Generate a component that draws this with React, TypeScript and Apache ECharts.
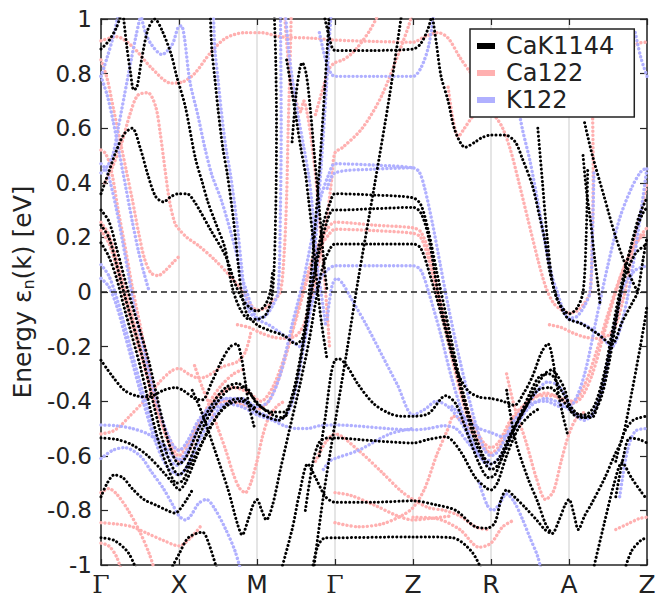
import React, { useEffect, useRef } from "react";
import * as echarts from "echarts";

// k-path: Γ=0, X=1, M=2, Γ=3, Z=4, R=5, A=6, Z=7 ; each band = flat list k0,E0,k1,E1,...
const kLabels = ["Γ", "X", "M", "Γ", "Z", "R", "A", "Z"];
const seriesNames = ["CaK1144", "Ca122", "K122"];

// ---------- CaK1144 (black) ----------
const K01 = [0,0.89, 0.1,0.92, 0.2,0.97, 0.27,1.03];
const K02 = [0.28,1.03, 0.33,0.9, 0.38,0.8, 0.42,0.74, 0.46,0.75, 0.52,0.85, 0.6,0.96, 0.69,1.0, 0.78,0.96, 0.9,0.87, 0.97,0.79, 1.08,0.68, 1.21,0.49, 1.3,0.4, 1.37,0.33, 1.46,0.26, 1.59,0.16, 1.68,0.02, 1.78,-0.06, 1.9,-0.1, 2.0,-0.1, 2.12,-0.08, 2.2,0.0, 2.24,0.3, 2.25,0.6, 2.24,0.85, 2.22,1.03];
const K03 = [1.4,1.03, 1.42,0.89, 1.46,0.78, 1.5,0.67, 1.56,0.53, 1.62,0.43, 1.7,0.26, 1.76,0.1, 1.8,0.0, 1.87,-0.08, 2.0,-0.12, 2.15,-0.14, 2.35,-0.16, 2.5,-0.19, 2.58,-0.17, 2.65,-0.05, 2.72,0.15, 2.8,0.45, 2.87,0.75, 2.93,1.03];
const K04 = [0,0.36, 0.1,0.44, 0.2,0.52, 0.3,0.58, 0.4,0.6, 0.5,0.53, 0.6,0.43, 0.7,0.35, 0.8,0.33, 0.9,0.35, 1.0,0.36, 1.1,0.36, 1.2,0.33, 1.4,0.23, 1.6,0.13, 1.72,0.03, 1.82,-0.03, 1.92,-0.06, 2.0,-0.07, 2.1,-0.05, 2.17,0.0, 2.2,0.08];
const K05 = [0,0.3, 0.1,0.26, 0.2,0.16, 0.35,0.0, 0.6,-0.24, 0.78,-0.46, 0.9,-0.58, 1.0,-0.63, 1.1,-0.6, 1.25,-0.5, 1.45,-0.4, 1.6,-0.35, 1.75,-0.335, 1.9,-0.37, 2.05,-0.42, 2.2,-0.45, 2.32,-0.46, 2.42,-0.42, 2.5,-0.34, 2.6,-0.18, 2.7,0.0, 2.8,0.15, 2.9,0.26, 2.97,0.3, 3.0,0.3, 3.5,0.305, 4.0,0.31, 4.1,0.29, 4.2,0.2, 4.32,0.0, 4.5,-0.22, 4.65,-0.4, 4.8,-0.55, 4.95,-0.64, 5.0,-0.65, 5.1,-0.63, 5.3,-0.5, 5.5,-0.37, 5.62,-0.31, 5.75,-0.3, 5.9,-0.36, 6.05,-0.43, 6.2,-0.46, 6.32,-0.44, 6.42,-0.38, 6.52,-0.25, 6.62,-0.08, 6.72,0.08, 6.85,0.22, 6.95,0.29, 7.0,0.31];
const K06 = [0,0.245, 0.1,0.2, 0.2,0.1, 0.32,-0.03, 0.55,-0.26, 0.75,-0.5, 0.88,-0.62, 1.0,-0.67, 1.1,-0.64, 1.3,-0.5, 1.5,-0.4, 1.7,-0.35, 1.85,-0.35, 2.0,-0.41, 2.2,-0.44, 2.35,-0.44, 2.45,-0.38, 2.55,-0.25, 2.65,-0.08, 2.75,0.1, 2.85,0.25, 2.94,0.33, 3.0,0.36, 3.5,0.355, 4.0,0.345, 4.1,0.32, 4.2,0.22, 4.3,0.08, 4.45,-0.12, 4.6,-0.32, 4.75,-0.48, 4.9,-0.6, 5.0,-0.63, 5.1,-0.61, 5.25,-0.52, 5.45,-0.42, 5.6,-0.36, 5.75,-0.35, 5.9,-0.39, 6.05,-0.44, 6.2,-0.45, 6.32,-0.42, 6.45,-0.3, 6.55,-0.15, 6.65,0.0, 6.78,0.15, 6.9,0.28, 7.0,0.345];
const K07 = [0,0.18, 0.1,0.13, 0.2,0.05, 0.3,-0.06, 0.5,-0.27, 0.72,-0.53, 0.85,-0.64, 0.97,-0.7, 1.05,-0.69, 1.15,-0.63, 1.3,-0.55, 1.5,-0.45, 1.65,-0.4, 1.8,-0.39, 2.0,-0.44, 2.15,-0.46, 2.28,-0.47, 2.38,-0.45];
const K08 = [0,-0.25, 0.15,-0.31, 0.3,-0.36, 0.45,-0.38, 0.6,-0.385, 0.8,-0.36, 0.95,-0.35, 1.05,-0.36, 1.2,-0.39, 1.3,-0.395, 1.42,-0.33, 1.55,-0.25, 1.66,-0.2, 1.74,-0.19, 1.8,-0.24, 1.85,-0.33, 1.9,-0.42, 1.97,-0.5];
const K09 = [1.17,-0.36, 1.29,-0.44, 1.46,-0.58, 1.63,-0.725, 1.75,-0.85, 1.81,-0.89, 1.88,-0.84, 1.95,-0.78, 2.0,-0.76, 2.06,-0.8, 2.12,-0.835, 2.2,-0.78, 2.3,-0.65, 2.42,-0.5, 2.55,-0.34, 2.67,-0.175, 2.75,-0.04, 2.85,0.1, 2.94,0.16, 3.0,0.176, 3.5,0.176, 4.0,0.176, 4.1,0.16, 4.22,0.06, 4.38,-0.1, 4.55,-0.28, 4.7,-0.36, 4.85,-0.385, 5.0,-0.39, 5.15,-0.4, 5.3,-0.415, 5.42,-0.37, 5.53,-0.31, 5.65,-0.22, 5.73,-0.19, 5.78,-0.23, 5.85,-0.35, 5.92,-0.45, 5.98,-0.52];
const K10 = [2.85,1.03, 2.93,0.93, 3.0,0.885, 3.5,0.885, 4.0,0.89, 4.1,0.91, 4.2,0.97, 4.25,1.03];
const K11 = [2.8,-0.6, 2.88,-0.45, 2.95,-0.3, 3.0,-0.25, 3.05,-0.245, 3.15,-0.27, 3.3,-0.34, 3.5,-0.41, 3.7,-0.445, 3.85,-0.455, 4.0,-0.455, 4.2,-0.445, 4.42,-0.38, 4.55,-0.41, 4.7,-0.52, 4.85,-0.63, 4.97,-0.68, 5.05,-0.67, 5.15,-0.6, 5.3,-0.5, 5.45,-0.42, 5.55,-0.36, 5.69,-0.3, 5.78,-0.285, 5.86,-0.31, 5.95,-0.36, 6.03,-0.44, 6.15,-0.46, 6.29,-0.46, 6.38,-0.4, 6.5,-0.25, 6.6,-0.1, 6.7,0.04, 6.85,0.14, 7.0,0.176];
const K12 = [0,-0.535, 0.2,-0.54, 0.4,-0.56, 0.6,-0.6, 0.8,-0.66, 0.95,-0.71, 1.0,-0.725, 1.08,-0.7, 1.2,-0.62, 1.35,-0.52, 1.5,-0.45, 1.65,-0.41, 1.8,-0.4, 2.0,-0.43];
const K13 = [2.62,-0.8, 2.72,-0.62, 2.8,-0.55, 2.9,-0.535, 3.0,-0.535, 3.5,-0.545, 4.0,-0.553, 4.2,-0.54, 4.42,-0.53, 4.6,-0.58, 4.8,-0.68, 4.95,-0.72, 5.0,-0.725, 5.08,-0.7, 5.2,-0.6, 5.35,-0.5, 5.5,-0.45, 5.6,-0.43];
const K14 = [0,-0.75, 0.08,-0.7, 0.17,-0.67, 0.28,-0.68, 0.4,-0.72, 0.55,-0.76, 0.7,-0.78, 0.85,-0.8, 0.95,-0.81, 1.0,-0.8, 1.1,-0.76, 1.18,-0.72];
const K15 = [2.3,-1.03, 2.45,-0.87, 2.55,-0.73, 2.65,-0.63, 2.75,-0.68, 2.88,-0.75, 3.0,-0.77, 3.5,-0.77, 4.0,-0.765, 4.3,-0.78, 4.55,-0.8, 4.8,-0.86, 4.95,-0.865, 5.05,-0.845, 5.13,-0.76, 5.2,-0.725, 5.3,-0.75, 5.44,-0.79, 5.6,-0.84, 5.69,-0.87, 5.78,-0.885, 5.88,-0.83, 5.95,-0.78, 6.0,-0.76, 6.06,-0.81, 6.12,-0.87, 6.2,-0.82, 6.29,-0.775, 6.46,-0.68, 6.58,-0.6, 6.68,-0.54, 6.81,-0.36, 6.97,-0.11, 7.0,-0.05];
const K16 = [0,-0.9, 0.17,-0.91, 0.35,-0.955, 0.47,-1.03];
const K17 = [0.87,-1.03, 1.0,-0.96, 1.12,-0.9, 1.3,-0.88, 1.38,-0.92, 1.5,-1.03];
const K18 = [2.7,-1.03, 2.78,-0.93, 2.88,-0.9, 3.0,-0.9, 4.0,-0.897, 4.5,-0.9, 4.75,-0.95, 4.9,-1.03];
const K19 = [2.72,-1.03, 2.85,-0.75, 3.0,-0.48, 3.15,-0.22, 3.3,0.05, 3.5,0.38, 3.7,0.72, 3.86,1.03];
const K20 = [4.24,1.03, 4.3,0.91, 4.36,0.79, 4.45,0.7, 4.54,0.59, 4.67,0.53, 4.8,0.55, 4.88,0.565, 5.0,0.575, 5.18,0.575, 5.31,0.55, 5.4,0.49, 5.53,0.39, 5.62,0.28, 5.69,0.19, 5.75,0.08, 5.82,0.0, 5.92,-0.07, 6.0,-0.1, 6.15,-0.115, 6.35,-0.15, 6.55,-0.19, 6.68,-0.11, 6.81,-0.04, 6.88,0.0, 6.95,0.12, 7.0,0.2];
const K21 = [6.7,-1.03, 6.8,-0.95, 6.92,-0.91, 7.0,-0.9];
const K22 = [6.3,-1.03, 6.45,-0.85, 6.58,-0.7, 6.68,-0.625, 6.8,-0.68, 6.92,-0.73, 7.0,-0.76];
const K23 = [6.6,-0.75, 6.7,-0.6, 6.78,-0.535, 6.9,-0.54, 7.0,-0.553];
const K24 = [6.6,-0.62, 6.7,-0.52, 6.82,-0.47, 7.0,-0.455];
const K25 = [2.38,0.85, 2.45,0.73, 2.5,0.64, 2.56,0.53, 2.62,0.435, 2.66,0.34, 2.71,0.215, 2.75,0.09, 2.78,0.0, 2.83,-0.12, 2.9,-0.25];
const K26 = [2.45,0.55, 2.5,0.72, 2.55,0.82, 2.58,0.84, 2.63,0.8, 2.68,0.68, 2.73,0.52, 2.8,0.3, 2.86,0.1, 2.9,0.0];
const K27 = [6.2,0.62, 6.3,0.5, 6.45,0.35, 6.6,0.2, 6.75,0.08, 6.88,0.0];
const K28 = [6.18,0.5, 6.22,0.38, 6.28,0.25, 6.33,0.12, 6.37,0.03, 6.4,-0.05];
const K29 = [5.2,-0.36, 5.31,-0.54, 5.47,-0.68, 5.6,-0.77, 5.7,-0.85, 5.78,-0.885];
const K30 = [5.6,0.6, 5.66,0.4, 5.72,0.2, 5.78,0.05, 5.85,-0.03, 5.95,-0.07, 6.0,-0.08, 6.1,-0.06, 6.18,0.0, 6.22,0.2, 6.24,0.45];

// ---------- Ca122 (pink) ----------
const C01 = [0,0.92, 0.2,0.935, 0.4,0.9, 0.65,0.82, 0.9,0.765, 1.05,0.77, 1.2,0.8, 1.4,0.875, 1.6,0.93, 1.85,0.95, 2.05,0.95, 2.3,0.935, 2.7,0.93, 3.0,0.923, 3.5,0.918, 4.0,0.915, 4.15,0.935, 4.32,0.95, 4.45,0.93, 4.6,0.86, 4.75,0.8, 4.9,0.76];
const C02 = [0,0.85, 0.08,0.78, 0.16,0.67, 0.24,0.56, 0.32,0.45, 0.4,0.34, 0.48,0.22, 0.56,0.12, 0.64,0.07, 0.73,0.06, 0.83,0.08, 0.93,0.11, 1.0,0.13];
const C03 = [0.05,0.4, 0.15,0.46, 0.27,0.55, 0.37,0.65, 0.47,0.72, 0.6,0.73, 0.7,0.68, 0.76,0.58, 0.82,0.45, 0.88,0.33, 0.95,0.25, 1.0,0.23, 1.1,0.2, 1.25,0.17, 1.45,0.12, 1.65,0.06, 1.82,0.0, 1.93,-0.05, 2.0,-0.066, 2.1,-0.06, 2.22,-0.03, 2.3,0.0, 2.35,0.15, 2.38,0.35, 2.4,0.6, 2.42,0.8, 2.44,1.03];
const C04 = [0,0.52, 0.05,0.51, 0.1,0.48, 0.15,0.42, 0.22,0.3, 0.3,0.18, 0.4,0.02, 0.5,-0.12, 0.65,-0.33, 0.8,-0.5, 0.92,-0.59, 1.0,-0.62, 1.1,-0.6, 1.25,-0.5, 1.4,-0.4, 1.55,-0.34, 1.7,-0.3, 1.85,-0.28];
const C05 = [0,0.255, 0.1,0.21, 0.2,0.12, 0.32,0.0, 0.55,-0.25, 0.75,-0.45, 0.9,-0.55, 1.0,-0.58, 1.1,-0.56, 1.25,-0.48, 1.4,-0.43, 1.6,-0.4, 1.8,-0.41, 2.0,-0.43, 2.15,-0.4, 2.3,-0.3, 2.45,-0.15, 2.6,0.02, 2.75,0.15, 2.9,0.23, 3.0,0.256, 3.5,0.245, 4.0,0.235, 4.1,0.22, 4.2,0.15, 4.3,0.03, 4.45,-0.15, 4.6,-0.33, 4.75,-0.47, 4.9,-0.55, 5.0,-0.57, 5.1,-0.55, 5.25,-0.47, 5.4,-0.42, 5.6,-0.38, 5.8,-0.38, 6.0,-0.41, 6.15,-0.39, 6.3,-0.3, 6.45,-0.15, 6.6,0.0, 6.75,0.12, 6.9,0.2, 7.0,0.235];
const C06 = [0,0.225, 0.1,0.18, 0.2,0.09, 0.3,-0.02, 0.5,-0.22, 0.7,-0.42, 0.85,-0.53, 1.0,-0.6, 1.12,-0.56, 1.3,-0.46, 1.5,-0.38, 1.7,-0.35, 1.9,-0.37, 2.05,-0.4, 2.2,-0.35, 2.35,-0.24, 2.5,-0.1, 2.65,0.05, 2.8,0.16, 2.92,0.21, 3.0,0.23, 3.5,0.225, 4.0,0.215, 4.1,0.2, 4.2,0.12, 4.3,0.0, 4.45,-0.18, 4.6,-0.36, 4.75,-0.5, 4.9,-0.57, 5.0,-0.59, 5.12,-0.56, 5.3,-0.46, 5.5,-0.4, 5.7,-0.37, 5.9,-0.39, 6.05,-0.4, 6.2,-0.34, 6.35,-0.22, 6.5,-0.08, 6.65,0.05, 6.8,0.15, 6.92,0.2, 7.0,0.215];
const C07 = [0,-0.735, 0.1,-0.72, 0.2,-0.74, 0.35,-0.8, 0.5,-0.88, 0.62,-0.96, 0.7,-1.03];
const C08 = [0,-0.845, 0.2,-0.85, 0.4,-0.86, 0.6,-0.885, 0.8,-0.91, 1.0,-0.93, 1.15,-0.9, 1.3,-0.85];
const C09 = [0,-0.92, 0.1,-0.93, 0.2,-0.97, 0.27,-1.03];
const C10 = [0,-0.52, 0.15,-0.51, 0.25,-0.49, 0.35,-0.46, 0.55,-0.4, 0.75,-0.33, 0.9,-0.29, 1.0,-0.28, 1.12,-0.3, 1.25,-0.315, 1.35,-0.31, 1.55,-0.275, 1.75,-0.255, 1.85,-0.22, 1.92,-0.15];
const C11 = [1.2,-0.27, 1.3,-0.35, 1.4,-0.42, 1.5,-0.5, 1.6,-0.58, 1.7,-0.67, 1.78,-0.72, 1.85,-0.735, 1.92,-0.7, 2.0,-0.62, 2.07,-0.53, 2.15,-0.46, 2.25,-0.42, 2.35,-0.4];
const C12 = [1.75,-0.12, 1.9,-0.13, 2.05,-0.15, 2.2,-0.165, 2.35,-0.17, 2.5,-0.16, 2.6,-0.12, 2.7,-0.02, 2.8,0.12, 2.9,0.28, 2.96,0.42, 3.0,0.51, 3.1,0.53, 3.35,0.6, 3.6,0.72, 3.85,0.9, 3.95,0.98, 4.0,1.03];
const C13 = [2.75,0.65, 2.85,0.75, 2.93,0.82, 3.0,0.84, 3.1,0.85, 3.2,0.87, 3.3,0.9, 3.45,0.96, 3.58,1.03];
const C14 = [2.35,1.03, 2.42,0.8, 2.5,0.7, 2.56,0.66, 2.6,0.7, 2.64,0.66, 2.7,0.55, 2.76,0.4, 2.82,0.2, 2.88,0.0, 2.93,-0.2];
const C15 = [2.75,-0.62, 2.88,-0.55, 3.0,-0.52, 3.3,-0.58, 3.6,-0.66, 3.85,-0.73, 4.0,-0.76, 4.2,-0.79, 4.4,-0.8, 4.6,-0.82, 4.8,-0.86, 4.95,-0.87];
const C16 = [3.0,-0.735, 3.2,-0.745, 3.5,-0.78, 3.8,-0.82, 4.0,-0.835, 4.2,-0.83, 4.5,-0.82];
const C17 = [3.0,-0.845, 3.3,-0.86, 3.6,-0.85, 3.85,-0.82, 4.0,-0.79, 4.15,-0.72, 4.3,-0.6, 4.45,-0.5, 4.52,-0.455, 4.62,-0.47, 4.8,-0.53, 4.95,-0.58, 5.0,-0.6];
const C18 = [4.0,-0.825, 4.3,-0.83, 4.6,-0.87, 4.85,-0.935, 5.0,-0.92, 5.15,-0.86, 5.3,-0.835];
const C19 = [4.45,0.75, 4.52,0.62, 4.58,0.57, 4.66,0.6, 4.76,0.64, 4.86,0.66, 4.96,0.66, 5.06,0.64, 5.15,0.6, 5.25,0.52, 5.35,0.41, 5.47,0.27, 5.6,0.12, 5.7,0.02, 5.8,-0.04, 5.9,-0.065, 6.0,-0.077, 6.1,-0.07, 6.2,-0.04, 6.27,0.0, 6.3,0.2, 6.31,0.45, 6.3,0.7];
const C20 = [5.75,-0.12, 5.9,-0.13, 6.05,-0.15, 6.2,-0.165, 6.35,-0.17, 6.5,-0.16, 6.6,-0.12, 6.7,-0.02, 6.8,0.12, 6.9,0.26, 7.0,0.4];
const C21 = [5.2,-0.3, 5.3,-0.42, 5.45,-0.55, 5.58,-0.68, 5.7,-0.76, 5.8,-0.73, 5.9,-0.62, 6.0,-0.52, 6.1,-0.46, 6.2,-0.44];
const C22 = [6.6,-0.87, 6.75,-0.85, 6.9,-0.83, 7.0,-0.825];
const C23 = [6.75,0.88, 6.88,0.91, 7.0,0.915];

// ---------- K122 (blue) ----------
const B01 = [0,0.79, 0.08,0.86, 0.17,0.95, 0.23,1.03];
const B02 = [0,0.79, 0.08,0.72, 0.16,0.62, 0.24,0.5, 0.32,0.38, 0.4,0.26, 0.48,0.15, 0.56,0.06, 0.62,0.0];
const B03 = [0.5,1.03, 0.57,0.95, 0.65,0.905, 0.78,0.87, 0.91,0.905, 0.99,0.97, 1.03,0.975, 1.07,0.93, 1.14,0.77, 1.24,0.65, 1.33,0.53, 1.42,0.43, 1.55,0.33, 1.72,0.16, 1.8,0.06, 1.87,0.0, 1.95,-0.07, 2.0,-0.095, 2.1,-0.09, 2.2,-0.05, 2.27,0.0, 2.3,0.3, 2.31,0.6, 2.3,1.03];
const B04 = [1.44,1.03, 1.46,0.89, 1.5,0.78, 1.54,0.67, 1.6,0.53, 1.66,0.43, 1.74,0.26, 1.8,0.1, 1.84,0.0, 1.9,-0.07, 2.0,-0.1, 2.15,-0.12, 2.3,-0.15, 2.45,-0.18, 2.55,-0.2, 2.62,-0.15, 2.68,-0.03, 2.74,0.15, 2.82,0.45, 2.89,0.75, 2.95,1.03];
const B05 = [0,0.47, 0.06,0.45, 0.12,0.4, 0.2,0.3, 0.28,0.18, 0.36,0.05, 0.42,-0.05, 0.5,-0.15, 0.65,-0.33, 0.8,-0.48, 0.92,-0.56, 1.0,-0.58, 1.1,-0.55, 1.25,-0.47, 1.4,-0.42, 1.6,-0.39, 1.8,-0.39, 2.0,-0.42, 2.15,-0.4, 2.3,-0.3, 2.45,-0.12, 2.6,0.05, 2.72,0.22, 2.82,0.35, 2.92,0.43, 3.0,0.47, 3.5,0.465, 4.0,0.455, 4.08,0.44, 4.15,0.38, 4.25,0.25, 4.35,0.1, 4.45,-0.05, 4.6,-0.25, 4.8,-0.48, 4.92,-0.58, 5.0,-0.6, 5.1,-0.58, 5.3,-0.47, 5.5,-0.41, 5.7,-0.4, 5.9,-0.42, 6.05,-0.41, 6.2,-0.3, 6.35,-0.1, 6.5,0.1, 6.65,0.27, 6.8,0.38, 6.92,0.44, 7.0,0.455];
const B06 = [0,0.436, 0.08,0.46, 0.15,0.5, 0.22,0.6, 0.3,0.72, 0.38,0.84, 0.45,0.94, 0.52,1.03];
const B07 = [0,0.1, 0.1,0.06, 0.2,-0.02, 0.3,-0.12, 0.5,-0.33, 0.7,-0.52, 0.85,-0.6, 0.97,-0.635, 1.05,-0.62, 1.2,-0.53, 1.35,-0.44, 1.5,-0.4, 1.65,-0.39, 1.8,-0.4, 1.95,-0.43, 2.1,-0.45, 2.25,-0.47, 2.4,-0.44, 2.5,-0.35, 2.6,-0.2, 2.7,-0.05, 2.8,0.04, 2.9,0.08, 3.0,0.096, 3.5,0.096, 4.0,0.096, 4.1,0.08, 4.2,0.0, 4.35,-0.15, 4.5,-0.32, 4.7,-0.5, 4.85,-0.6, 5.0,-0.63, 5.12,-0.6, 5.3,-0.5, 5.5,-0.42, 5.7,-0.39, 5.9,-0.41, 6.1,-0.45, 6.25,-0.46, 6.4,-0.38, 6.5,-0.25, 6.6,-0.1, 6.7,0.02, 6.85,0.08, 7.0,0.096];
const B08 = [0,0.05, 0.1,0.02, 0.2,-0.05, 0.3,-0.15, 0.5,-0.36, 0.7,-0.55, 0.85,-0.64, 1.0,-0.67, 1.1,-0.64, 1.25,-0.55, 1.4,-0.47, 1.55,-0.42, 1.7,-0.4];
const B09 = [0,-0.487, 0.2,-0.49, 0.4,-0.5, 0.6,-0.52, 0.8,-0.56, 0.92,-0.6, 1.0,-0.615, 1.1,-0.58, 1.25,-0.5, 1.4,-0.44, 1.6,-0.41, 1.8,-0.42, 2.0,-0.45, 2.2,-0.47, 2.35,-0.49, 2.5,-0.5, 2.65,-0.5, 2.8,-0.49, 3.0,-0.487, 4.0,-0.505, 4.2,-0.5, 4.4,-0.49, 4.55,-0.5, 4.7,-0.55, 4.85,-0.6, 5.0,-0.62];
const B10 = [0,-0.61, 0.15,-0.58, 0.3,-0.57, 0.5,-0.6, 0.65,-0.66, 0.8,-0.72, 0.92,-0.78, 1.0,-0.82, 1.08,-0.835, 1.15,-0.82, 1.25,-0.775, 1.35,-0.76, 1.45,-0.79, 1.6,-0.87, 1.72,-0.95, 1.8,-1.03];
const B11 = [2.85,-0.65, 2.93,-0.62, 3.0,-0.61, 3.3,-0.58, 3.7,-0.52, 4.0,-0.5];
const B12 = [2.9,-0.1, 2.96,0.02, 3.02,0.05, 3.1,0.03, 3.2,-0.02, 3.4,-0.12, 3.6,-0.23, 3.8,-0.34, 4.0,-0.45, 4.15,-0.43, 4.3,-0.4, 4.45,-0.42, 4.6,-0.47, 4.75,-0.55, 4.9,-0.62, 5.0,-0.65];
const B13 = [2.8,0.95, 2.88,0.85, 2.95,0.8, 3.0,0.79, 3.5,0.79, 4.0,0.79, 4.1,0.82, 4.2,0.9, 4.27,1.03];
const B14 = [2.9,0.38, 3.0,0.436, 3.5,0.45, 4.0,0.455];
const B15 = [6.85,0.95, 6.92,0.86, 7.0,0.79];
const B16 = [2.36,1.03, 2.42,0.85, 2.48,0.73, 2.53,0.64, 2.6,0.53, 2.66,0.43, 2.7,0.34, 2.74,0.2, 2.78,0.08, 2.82,0.0, 2.88,-0.12];
const B17 = [5.3,0.75, 5.4,0.6, 5.5,0.48, 5.6,0.33, 5.7,0.17, 5.78,0.06, 5.85,0.0, 5.93,-0.07, 6.0,-0.095, 6.1,-0.09, 6.2,-0.05, 6.27,0.0, 6.3,0.2, 6.32,0.45];
const B18 = [6.0,-0.1, 6.2,-0.12, 6.4,-0.16, 6.55,-0.2, 6.65,-0.14, 6.75,-0.02, 6.85,0.15, 6.95,0.35, 7.0,0.455];
const B19 = [4.5,-0.42, 4.7,-0.47, 4.85,-0.5, 5.0,-0.515, 5.15,-0.53, 5.3,-0.5, 5.45,-0.42, 5.6,-0.36, 5.72,-0.33, 5.85,-0.34, 5.95,-0.38, 6.05,-0.44, 6.2,-0.47, 6.3,-0.45];
const B20 = [4.85,-0.7, 4.95,-0.78, 5.02,-0.8, 5.1,-0.78, 5.2,-0.74, 5.3,-0.77, 5.4,-0.83, 5.5,-0.9, 5.6,-0.97, 5.65,-1.03];
const B21 = [6.65,-0.75, 6.75,-0.58, 6.85,-0.51, 7.0,-0.5];

const blackBands = [K01,K02,K03,K04,K05,K06,K07,K08,K09,K10,K11,K12,K13,K14,K15,K16,K17,K18,K19,K20,K21,K22,K23,K24,K25,K26,K27,K28,K29,K30];
const pinkBands = [C01,C02,C03,C04,C05,C06,C07,C08,C09,C10,C11,C12,C13,C14,C15,C16,C17,C18,C19,C20,C21,C22,C23];
const blueBands = [B01,B02,B03,B04,B05,B06,B07,B08,B09,B10,B11,B12,B13,B14,B15,B16,B17,B18,B19,B20,B21];

const COLORS = { black: "#000000", pink: "#ffb0b0", blue: "#b0b0ff" };

function toPairs(flat: number[]) {
  const out: number[][] = [];
  for (let i = 0; i < flat.length; i += 2) out.push([flat[i], flat[i + 1]]);
  return out;
}

function bandSeries(bands: number[][], name: string, color: string, width: number, gap: number, z: number) {
  return bands.map((b) => ({
    type: "line",
    name,
    xAxisIndex: 0,
    yAxisIndex: 0,
    data: toPairs(b),
    smooth: 0.3,
    symbol: "none",
    showSymbol: false,
    silent: true,
    clip: true,
    z,
    lineStyle: { color, width, type: [0.1, gap], cap: "round", join: "round" },
    itemStyle: { color },
  }));
}

export default function App() {
  const ref = useRef<HTMLDivElement>(null);
  useEffect(() => {
    if (!ref.current) return;
    const chart = echarts.init(ref.current, undefined, { renderer: "svg" });
    const axisColor = "#262626";
    const font = "DejaVu Sans";
    const option: any = {
      animation: false,
      backgroundColor: "#ffffff",
      grid: { left: 101, right: 17, top: 19, bottom: 36, containLabel: false },
      legend: {
        left: 470,
        top: 29,
        orient: "vertical",
        selectedMode: false,
        data: seriesNames,
        icon: "rect",
        itemWidth: 18,
        itemHeight: 6,
        itemGap: 3,
        padding: [5, 20, 5, 7],
        backgroundColor: "#ffffff",
        borderColor: "#222",
        borderWidth: 1.5,
        borderRadius: 0,
        z: 20,
        textStyle: { fontSize: 24, fontFamily: font, color: "#222", lineHeight: 24, padding: [0, 0, 0, 6] },
      },
      xAxis: [
        {
          type: "value",
          min: 0,
          max: 7,
          interval: 1,
          position: "bottom",
          axisLine: { show: true, onZero: false, lineStyle: { color: axisColor, width: 1.5 } },
          axisTick: { show: true, inside: true, length: 6, lineStyle: { color: axisColor, width: 1.2 } },
          splitLine: { show: true, lineStyle: { color: "#dcdcdc", width: 1.5 } },
          axisLabel: {
            margin: 7,
            fontSize: 25,
            fontFamily: font,
            color: "#222",
            formatter: (v: number) => {
              const s = kLabels[Math.round(v)] ?? "";
              return s === "Γ" ? "{g|Γ}" : s;
            },
            rich: { g: { fontFamily: "DejaVu Serif", fontSize: 25, color: "#222" } },
          },
        },
        {
          type: "value",
          min: 0,
          max: 7,
          interval: 1,
          position: "top",
          axisLine: { show: true, onZero: false, lineStyle: { color: axisColor, width: 1.5 } },
          axisTick: { show: true, inside: true, length: 6, lineStyle: { color: axisColor, width: 1.2 } },
          splitLine: { show: false },
          axisLabel: { show: false },
        },
      ],
      yAxis: [
        {
          type: "value",
          min: -1,
          max: 1,
          interval: 0.2,
          position: "left",
          name: "Energy ε{sub|n}(k) [eV]",
          nameLocation: "middle",
          nameGap: 58,
          nameTextStyle: {
            fontSize: 25,
            fontFamily: font,
            color: "#222",
            rich: { sub: { fontSize: 16, fontFamily: font, color: "#222", verticalAlign: "bottom", padding: [12, 0, 0, 0] } },
          },
          axisLine: { show: true, onZero: false, lineStyle: { color: axisColor, width: 1.5 } },
          axisTick: { show: true, inside: true, length: 7, lineStyle: { color: axisColor, width: 1.2 } },
          splitLine: { show: false },
          axisLabel: {
            margin: 9,
            fontSize: 23,
            fontFamily: font,
            color: "#222",
            formatter: (v: number) => {
              const r = Math.round(v * 10) / 10;
              return r === 0 ? "0" : String(r);
            },
          },
        },
        {
          type: "value",
          min: -1,
          max: 1,
          interval: 0.2,
          position: "right",
          axisLine: { show: true, onZero: false, lineStyle: { color: axisColor, width: 1.5 } },
          axisTick: { show: true, inside: true, length: 7, lineStyle: { color: axisColor, width: 1.2 } },
          splitLine: { show: false },
          axisLabel: { show: false },
        },
      ],
      series: [
        ...bandSeries(pinkBands, "Ca122", COLORS.pink, 3.4, 4.0, 2),
        ...bandSeries(blueBands, "K122", COLORS.blue, 3.4, 4.0, 3),
        ...bandSeries(blackBands, "CaK1144", COLORS.black, 3.0, 4.0, 4),
        {
          type: "line",
          name: "zero",
          xAxisIndex: 0,
          yAxisIndex: 0,
          data: [[0, 0], [7, 0]],
          symbol: "none",
          silent: true,
          z: 5,
          lineStyle: { color: "#222", width: 1.3, type: [6, 4] },
        },
      ],
    };
    chart.setOption(option);
    return () => chart.dispose();
  }, []);
  return <div ref={ref} style={{ position: "fixed", left: 0, top: 0, width: 664, height: 601 }} />;
}
